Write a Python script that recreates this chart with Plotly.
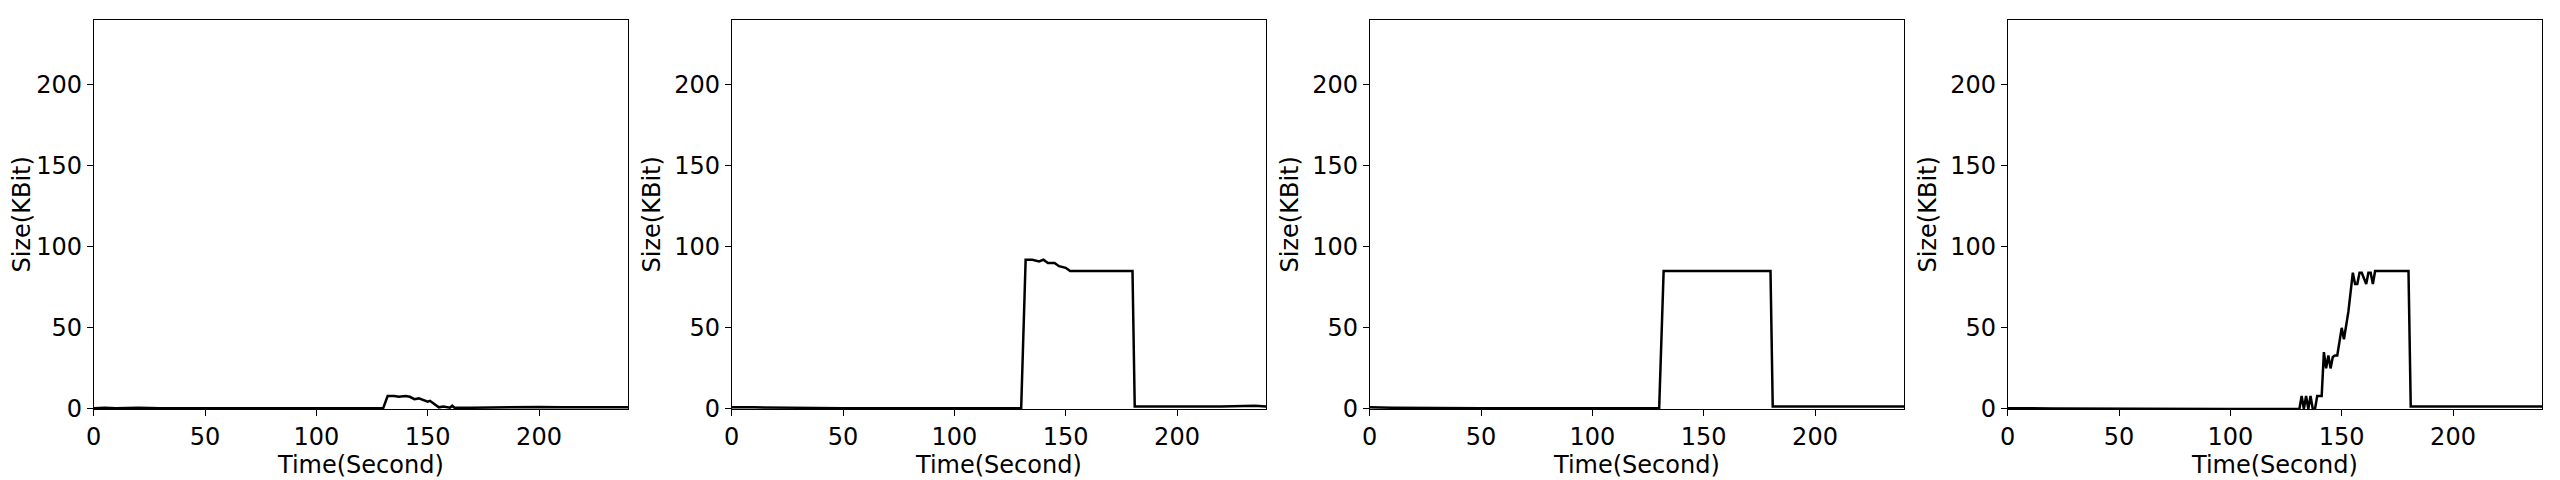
import plotly.graph_objects as go

# knot points (seconds, KBit)
t1 = [0, 5, 10, 20, 30, 60, 100, 130, 132, 135, 137, 140, 142, 144, 146, 148, 150, 151, 153, 155, 157, 160, 161, 162, 170, 180, 200, 210, 220, 230, 240]
s1 = [0.5, 0.8, 0.5, 0.8, 0.5, 0.5, 0.5, 0.5, 8, 8, 7.5, 8, 7.5, 6, 6.5, 5.5, 4.5, 5, 3, 1, 1.5, 0.8, 2, 0.8, 0.8, 1, 1.2, 1, 1.2, 1, 1]
t2 = [0, 10, 50, 100, 130, 132, 135, 138, 140, 142, 145, 147, 150, 152, 160, 170, 180, 181, 190, 200, 220, 235, 240]
s2 = [1, 1, 0.5, 0.5, 0.5, 92, 92, 91, 92, 90, 90, 88, 87, 85, 85, 85, 85, 1.5, 1.5, 1.8, 1.5, 2, 1.5]
t3 = [0, 10, 50, 100, 130, 132, 140, 150, 160, 170, 180, 181, 190, 200, 220, 240]
s3 = [1, 0.8, 0.5, 0.5, 0.5, 85, 85, 85, 85, 85, 85, 1.5, 1.5, 1.5, 1.5, 1.5]
t4 = [0, 10, 20, 100, 131, 132, 133, 134, 135, 136, 137, 138, 139, 141, 142, 143, 144, 145, 146, 147, 148, 150, 151, 153, 155, 156, 157, 158, 159, 161, 162, 163, 164, 165, 170, 180, 181, 190, 200, 220, 240]
s4 = [0.5, 0.5, 0.3, 0, 0, 8, 0, 8, 0, 8, 0, 0, 8, 8, 35, 25, 33, 25, 32, 33, 33, 50, 43, 60, 84, 77, 77, 84, 84, 77, 84, 84, 77, 85, 85, 85, 1.5, 1.5, 1.8, 1.5, 1.5]

series = [(t1, s1), (t2, s2), (t3, s3), (t4, s4)]
x_px = [(78, 614), (718, 1254), (1358, 1894), (1998, 2534)]
W, H = 2560, 480
font = dict(family='DejaVu Sans', size=24, color='black')

fig = go.Figure()
layout = dict(width=W, height=H, margin=dict(l=0, r=0, t=0, b=0),
              plot_bgcolor='white', paper_bgcolor='white', showlegend=False, font=font)
for i, ((t, s), (x0, x1)) in enumerate(zip(series, x_px)):
    n = '' if i == 0 else str(i + 1)
    fig.add_trace(go.Scatter(x=t, y=s, mode='lines', line=dict(color='black', width=2.5),
                             xaxis='x' + n, yaxis='y' + n))
    ax = dict(showline=True, linecolor='black', linewidth=1, mirror=True, showgrid=False,
              zeroline=False, ticks='outside', ticklen=6, tickcolor='black', tickfont=font)
    layout['xaxis' + n] = dict(ax, domain=[x0 / W, x1 / W], range=[0, 240], dtick=50,
                               anchor='y' + n, title=dict(text='Time(Second)', font=font, standoff=2))
    layout['yaxis' + n] = dict(ax, domain=[1 - 413 / H, 1 - 12 / H], range=[0, 240], dtick=50,
                               anchor='x' + n, title=dict(text='Size(KBit)', font=font, standoff=6))
fig.update_layout(**layout)
fig.write_html('out.html')
